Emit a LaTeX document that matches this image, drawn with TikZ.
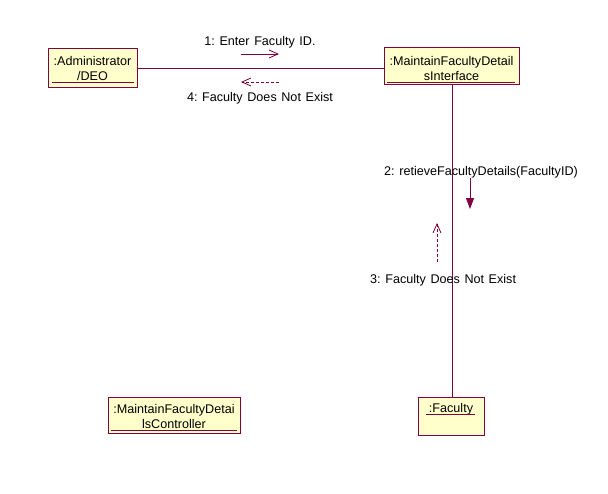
\documentclass[tikz,border=0pt]{standalone}
\usepackage{fontspec}
\setmainfont{Liberation Sans}
\usetikzlibrary{arrows.meta}
\definecolor{umlred}{RGB}{128,0,64}
\definecolor{umlfill}{RGB}{255,255,204}
\newcommand\lblfont{\fontsize{12.6}{14}\selectfont\spaceskip=4.6pt plus 1pt\relax}
\begin{document}
\frenchspacing
\begin{tikzpicture}[x=1pt,y=-1pt,
  obj/.style={draw=umlred, fill=umlfill, line width=0.9pt, rectangle, inner sep=0pt},
  lbl/.style={font=\lblfont, inner sep=0pt, anchor=base},
  uline/.style={draw=umlred, line width=0.9pt},
  link/.style={draw=umlred, line width=0.9pt},
  msg/.style={draw=umlred, line width=0.8pt, -{Straight Barb[length=9pt,width=8pt]}},
  dmsg/.style={msg, dash pattern=on 3pt off 2pt},
  fmsg/.style={draw=umlred, fill=umlred, line width=0.8pt, -{Triangle[length=11pt,width=8pt]}}
]
\useasboundingbox (0,0) rectangle (608,493);
\fill[white] (0,0) rectangle (608,493);

% objects
\node[obj, minimum width=89pt, minimum height=39pt] (admin) at (92.5,67.5) {};
\node[lbl] (admin1) at (92.5,65) {:Administrator};
\node[lbl] (admin2) at (92.5,80) {/DEO};
\draw[uline] (52,82) -- (134,82);

\node[obj, minimum width=135pt, minimum height=37pt] (iface) at (451.5,65.8) {};
\node[lbl] (iface1) at (451.5,65) {:MaintainFacultyDetail};
\node[lbl] (iface2) at (451.5,80.5) {sInterface};
\draw[uline] (387,82.3) -- (515,82.3);

\node[obj, minimum width=132pt, minimum height=36pt] (ctrl) at (174,415) {};
\node[lbl] (ctrl1) at (174,413) {:MaintainFacultyDetai};
\node[lbl] (ctrl2) at (174,428) {lsController};
\draw[uline] (111,430) -- (237,430);

\node[obj, minimum width=66pt, minimum height=38pt] (fac) at (451,416) {};
\node[lbl] (fac1) at (451,412.5) {:Faculty};
\draw[uline] (426,414) -- (475,414);

% links
\draw[link] (admin.east |- 0,68) -- (iface.west |- 0,68);
\draw[link] (452,84.3) -- (452,397);

% messages
\coordinate (m1a) at (241,54); \coordinate (m1b) at (279,54);
\draw[msg] (m1a) -- (m1b);
\node[lbl] (m1) at (260,45) {1: Enter Faculty ID.};

\coordinate (m4a) at (279,82); \coordinate (m4b) at (241,82);
\draw[dmsg] (m4a) -- (m4b);
\node[lbl] (m4) at (260,101.5) {4: Faculty Does Not Exist};

\coordinate (m2a) at (470,178); \coordinate (m2b) at (470,209);
\draw[fmsg] (m2a) -- (m2b);
\node[lbl, anchor=base west] (m2) at (384,175.5) {2: retieveFacultyDetails(FacultyID)};

\coordinate (m3a) at (437,262); \coordinate (m3b) at (437,223);
\draw[dmsg] (m3a) -- (m3b);
\node[lbl, anchor=base west] (m3) at (370,283) {3: Faculty Does Not Exist};
\end{tikzpicture}
\end{document}
